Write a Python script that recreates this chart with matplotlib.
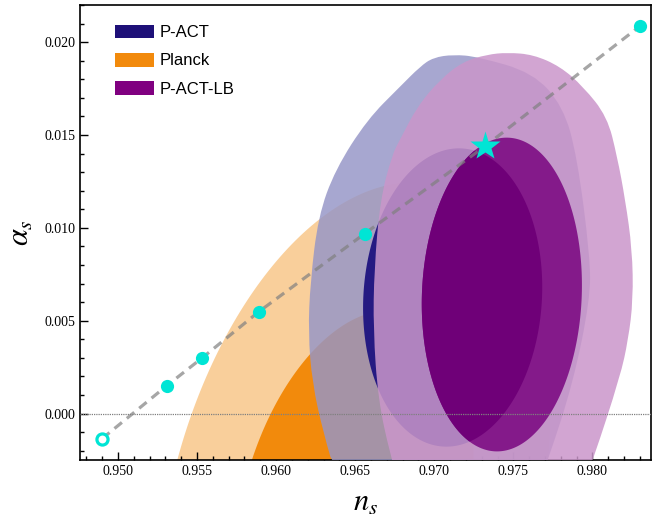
# n_s vs alpha_s constraints: Planck, P-ACT, P-ACT-LB with model points
import numpy as np
import matplotlib
matplotlib.use("Agg")
import matplotlib.pyplot as plt
from matplotlib.patches import Polygon, Patch, PathPatch
from matplotlib.path import Path
from matplotlib.ticker import MultipleLocator, FormatStrFormatter

plt.rcParams['font.family'] = ['Liberation Serif', 'DejaVu Serif']
plt.rcParams['mathtext.fontset'] = 'stix'

# model predictions along the dashed track
ns_pts = [0.9490, 0.9531, 0.9553, 0.9589, 0.9656, 0.9732, 0.9830]
alpha_pts = [-0.00135, 0.00151, 0.00298, 0.00548, 0.00969, 0.01439, 0.02086]
open_idx = 0
star_idx = 5

# Planck gaussian approximation: centre, sigmas, correlation
planck_centre = (0.9649, -0.0052)
planck_sigma = (0.0050, 0.0071)
planck_rho = 0.30

# inner (68%) ellipses for P-ACT and P-ACT-LB
pact_centre = (0.97116, 0.00625)
pact_sigma = (0.003734, 0.005296)
pact_rho = 0.07
lb_centre = (0.97427, 0.00641)
lb_sigma = (0.003338, 0.005570)
lb_rho = 0.06

# outer (95%) contours, traced boundaries
pact_outer_ns = [0.96386, 0.96298, 0.96228, 0.96203, 0.96216, 0.96266, 0.96374,
                 0.96576, 0.96784, 0.96911, 0.96993, 0.97120, 0.97271, 0.97625,
                 0.97815, 0.97903, 0.97985, 0.97985, 0.97878, 0.97720, 0.97669]
pact_outer_as = [-0.00355, -0.00102, 0.00167, 0.00436, 0.00705, 0.01061, 0.01314,
                 0.01583, 0.01761, 0.01869, 0.01917, 0.01933, 0.01922, 0.01836,
                 0.01653, 0.01384, 0.00845, 0.00614, 0.00167, -0.00248, -0.00355]

lb_outer_ns = [0.96772, 0.96721, 0.96645, 0.96614, 0.96620, 0.96658, 0.96734,
               0.96784, 0.96892, 0.97037, 0.97183, 0.97334, 0.97461, 0.97625,
               0.97796, 0.97941, 0.98093, 0.98156, 0.98207, 0.98251, 0.98257,
               0.98226, 0.98175, 0.98004, 0.97953]
lb_outer_as = [-0.00355, -0.00221, 0.00075, 0.00452, 0.00775, 0.01152, 0.01395,
               0.01476, 0.01653, 0.01799, 0.01896, 0.01933, 0.01944, 0.01933,
               0.01869, 0.01761, 0.01599, 0.01384, 0.01152, 0.00883, 0.00614,
               0.00398, 0.00199, -0.00248, -0.00355]

labels = ['P-ACT', 'Planck', 'P-ACT-LB']
legend_colors = ['#1e1078', '#f28a0c', '#800080']

K1 = np.sqrt(2.30)   # 68% level
K2 = np.sqrt(6.18)   # 95% level


def ellipse(centre, sigma, rho, k, n=300):
    t = np.linspace(0, 2 * np.pi, n)
    x = centre[0] + k * sigma[0] * np.cos(t)
    y = centre[1] + k * sigma[1] * (rho * np.cos(t) + np.sqrt(1 - rho**2) * np.sin(t))
    return np.column_stack([x, y])


def smooth_path(xs, ys):
    # closed quadratic bezier through midpoints, traced points as controls
    p = np.column_stack([xs, ys])
    n = len(p)
    mids = (p + np.roll(p, -1, axis=0)) / 2
    verts = [mids[-1]]
    codes = [Path.MOVETO]
    for i in range(n):
        verts += [p[i], mids[i]]
        codes += [Path.CURVE3, Path.CURVE3]
    verts.append(mids[-1])
    codes.append(Path.CLOSEPOLY)
    return Path(verts, codes)


fig = plt.figure(figsize=(6.62, 5.2), dpi=100)
ax = fig.add_axes([0.1208, 0.1154, 0.8626, 0.875])

# Planck
ax.add_patch(Polygon(ellipse(planck_centre, planck_sigma, planck_rho, K2),
                     closed=True, facecolor='#f9cf9b', edgecolor='none', zorder=1))
ax.add_patch(Polygon(ellipse(planck_centre, planck_sigma, planck_rho, K1),
                     closed=True, facecolor='#f28a0c', edgecolor='none', zorder=2))

# P-ACT
ax.add_patch(PathPatch(smooth_path(pact_outer_ns, pact_outer_as),
                       facecolor='#9696c7', alpha=0.83, edgecolor='none', zorder=3))
pact_in = ellipse(pact_centre, pact_sigma, pact_rho, K1)
ax.add_patch(Polygon(pact_in, closed=True, facecolor='#251a82',
                     edgecolor='none', zorder=4))

# P-ACT-LB
ax.add_patch(PathPatch(smooth_path(lb_outer_ns, lb_outer_as),
                       facecolor='#ca96ca', alpha=0.85, edgecolor='none', zorder=5))
lb_in_patch = Polygon(ellipse(lb_centre, lb_sigma, lb_rho, K1), closed=True,
                      facecolor='#841a8a', edgecolor='none', zorder=6)
ax.add_patch(lb_in_patch)
overlap = Polygon(pact_in, closed=True, facecolor='#6f0078', edgecolor='none', zorder=7)
ax.add_patch(overlap)
overlap.set_clip_path(lb_in_patch)

# zero line
ax.axhline(0, color='#808080', lw=0.9, ls=(0, (1, 0.8)), zorder=8)

# model track
ax.plot(ns_pts, alpha_pts, color='#808080', alpha=0.7, lw=2.3,
        dashes=(3, 2), zorder=9)
filled = [i for i in range(len(ns_pts)) if i not in (open_idx, star_idx)]
ax.plot([ns_pts[i] for i in filled], [alpha_pts[i] for i in filled], 'o',
        ms=9.5, color='#00e5d5', mec='none', zorder=10)
ax.plot(ns_pts[open_idx], alpha_pts[open_idx], 'o', ms=8, mfc='white',
        mec='#00e5d5', mew=2.3, zorder=10)
ax.plot(ns_pts[star_idx], alpha_pts[star_idx], '*', ms=22, color='#00e5d5',
        mec='none', zorder=10)

ax.set_xlim(0.9476, 0.9837)
ax.set_ylim(-0.0025, 0.0220)

ax.xaxis.set_major_locator(MultipleLocator(0.005))
ax.xaxis.set_minor_locator(MultipleLocator(0.001))
ax.yaxis.set_major_locator(MultipleLocator(0.005))
ax.yaxis.set_minor_locator(MultipleLocator(0.001))
ax.xaxis.set_major_formatter(FormatStrFormatter('%.3f'))
ax.yaxis.set_major_formatter(FormatStrFormatter('%.3f'))
ax.tick_params(which='both', direction='in', top=False, right=False,
               labelsize=10, width=1)
ax.tick_params(which='major', length=6)
ax.tick_params(which='minor', length=3)
for s in ax.spines.values():
    s.set_linewidth(1.2)

ax.set_xlabel(r'$n_s$', fontsize=22, labelpad=8)
ax.set_ylabel(r'$\alpha_s$', fontsize=22, labelpad=6)

handles = [Patch(facecolor=c, edgecolor='none') for c in legend_colors]
ax.legend(handles, labels, loc='upper left', bbox_to_anchor=(0.035, 0.99),
          frameon=False, handlelength=2.35, handleheight=0.9, handletextpad=0.35,
          labelspacing=0.75, prop={'family': 'Liberation Sans', 'size': 12})

fig.savefig('out.png', dpi=100)
